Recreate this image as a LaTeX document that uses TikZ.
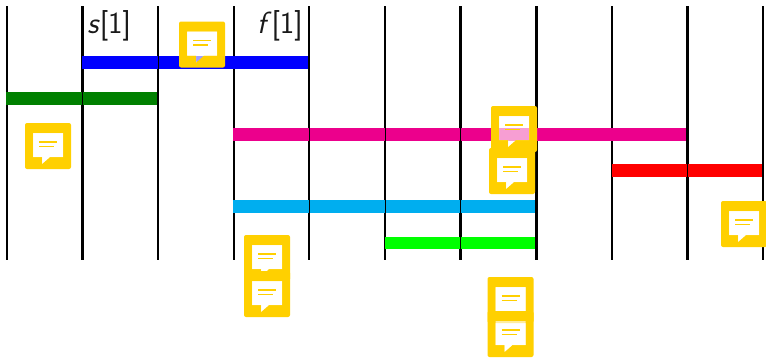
\documentclass[tikz,border=0pt]{standalone}
\usepackage{fontspec}
\definecolor{gold}{HTML}{FFD000}
\definecolor{barpink}{HTML}{EC008C}
\definecolor{barcyan}{HTML}{00AEEF}
\definecolor{barlime}{HTML}{00FF00}
\definecolor{bargreen}{HTML}{008000}
\definecolor{barblue}{HTML}{0000FF}
\definecolor{barred}{HTML}{FF0000}
\tikzset{
  x=0.75pt,y=-0.75pt,
  gridline/.style={black,line width=1.5pt},
  gridthick/.style={black,line width=2.1pt},
  seam/.style={black,line width=0.35pt},
  label/.style={inner sep=0pt,font=\fontsize{23}{27}\selectfont\sffamily,text=black!90},
  note/.pic={
    \fill[gold,even odd rule]
      [rounded corners=1.5pt] (0,0) rectangle (46,46)
      [sharp corners] (8,10) -- (38,10) -- (38,34) -- (25,34) -- (17,41) -- (17,34) -- (8,34) -- cycle;
    \fill[white,opacity=.62] (8,10) -- (38,10) -- (38,34) -- (25,34) -- (17,41) -- (17,34) -- (8,34) -- cycle;
    \draw[gold,line width=1pt] (14,19) -- (32,19);
    \draw[gold,line width=1pt] (14,23.5) -- (29,23.5);
  }
}
\begin{document}
\begin{tikzpicture}
\useasboundingbox (0,0) rectangle (766,357);
% grid
\foreach \x in {7,158,234,385,612,763.3} \draw[gridline] (\x,6) -- (\x,260);
\foreach \x in {82.5,309,460.5,536.6,687.5} \draw[gridthick] (\x,6) -- (\x,260);
% bars
\fill[barblue] (82,56) rectangle (308,69);
\fill[bargreen] (6,92) rectangle (157,105);
\fill[barpink] (233,128) rectangle (686,141);
\fill[barred] (612,164) rectangle (762,177);
\fill[barcyan] (233,200) rectangle (535,213);
\fill[barlime] (385,237) rectangle (535,249);
% seams between bar segments
\draw[seam] (158,56) -- (158,69);
\draw[seam] (82.5,92) -- (82.5,105);
\foreach \x in {309,385,460.5} \draw[seam] (\x,128) -- (\x,141);
\draw[seam] (687.5,164) -- (687.5,177);
\foreach \x in {309,385,460.5} \draw[seam] (\x,200) -- (\x,213);
\draw[seam] (460.5,237) -- (460.5,249);
% labels
\node[label,anchor=base west] (s1) at (87,33) {\textit{s}[1]};
\node[label,anchor=base east] (f1) at (303,33) {\textit{f}[1]};
% notes
\pic at (179,21.5) {note};
\pic at (25,123) {note};
\pic at (491,106) {note};
\pic at (489,148) {note};
\pic at (721,201) {note};
\pic at (244,235) {note};
\pic at (244,271) {note};
\pic at (487.5,277) {note};
\pic at (487.5,311) {note};
\end{tikzpicture}
\end{document}
